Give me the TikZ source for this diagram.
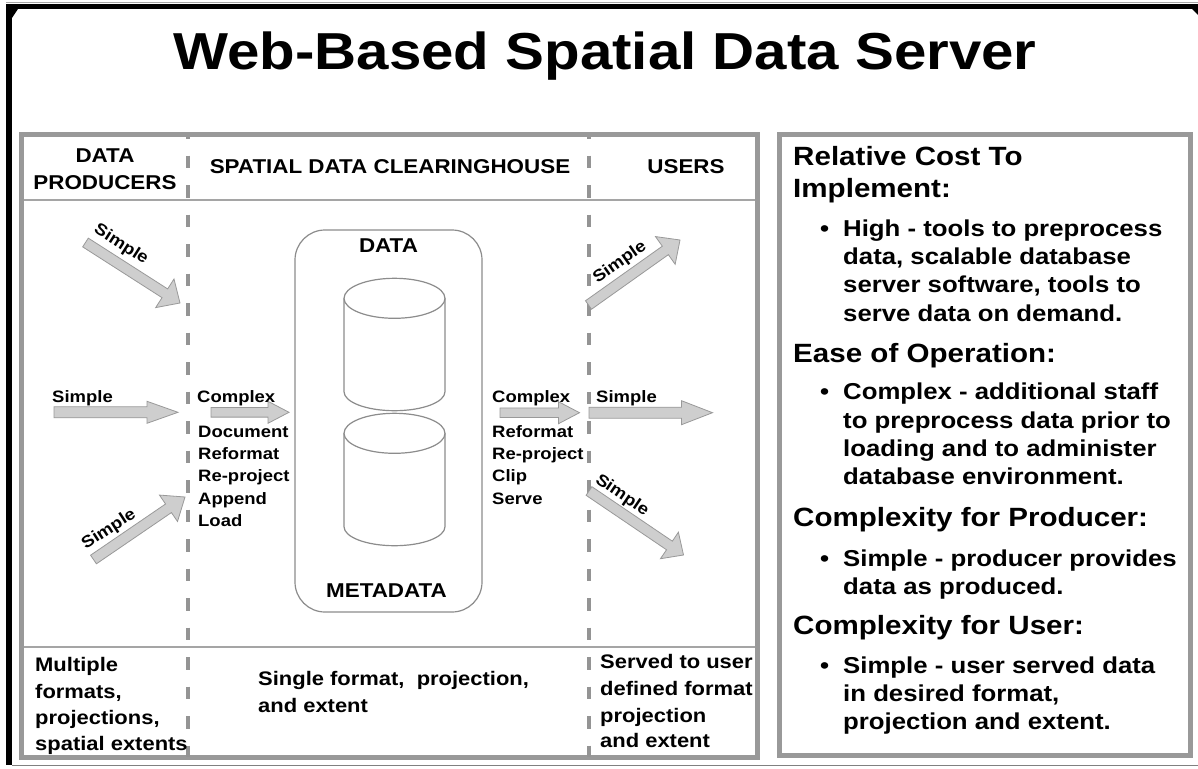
\documentclass[tikz,border=0pt]{standalone}
\usepackage{fontspec}
\setmainfont[FakeStretch=1.12]{Liberation Sans}
\usetikzlibrary{calc}

\definecolor{panelgray}{RGB}{153,153,153}
\definecolor{dashgray}{RGB}{148,148,148}
\definecolor{arrowfill}{RGB}{206,206,206}
\definecolor{linegray}{RGB}{140,140,140}
\definecolor{sepgray}{RGB}{165,165,165}

% block arrow: tail, tip, shaft half width, head half width, head length
\newcommand{\blockarrow}[5]{%
  \coordinate (#1-hb) at ($(#2)!#5pt!(#1)$);
  \draw[blockarr]
    ($(#1)!#3pt!90:(#2)$) -- ($(#1-hb)!#3pt!90:(#2)$) --
    ($(#1-hb)!#4pt!90:(#2)$) -- (#2) --
    ($(#1-hb)!#4pt!-90:(#2)$) -- ($(#1-hb)!#3pt!-90:(#2)$) --
    ($(#1)!#3pt!-90:(#2)$) -- cycle;
}

\begin{document}
\begin{tikzpicture}[x=1pt,y=-1pt,
  panel/.style={draw=panelgray, line width=5},
  sep/.style={draw=sepgray, line width=1.2},
  divider/.style={draw=dashgray, line width=4, dash pattern=on 12.5pt off 17pt, dash phase=11pt},
  blockarr/.style={draw=panelgray, fill=arrowfill, line width=0.8, line join=miter},
  store/.style={draw=linegray, line width=1.2, rounded corners=30pt, minimum width=187pt, minimum height=382pt, inner sep=0},
  cyl/.style={draw=linegray, line width=1.2},
  titletext/.style={font=\fontsize{52}{60}\selectfont\bfseries, inner sep=0, anchor=base},
  hdr/.style={font=\fontsize{20}{24}\selectfont\bfseries, inner sep=0, anchor=base},
  lbl/.style={font=\fontsize{16.5}{20}\selectfont\bfseries, inner sep=0, anchor=base west},
  slbl/.style={font=\fontsize{16.5}{20}\selectfont\bfseries, inner sep=0, anchor=center},
  btm/.style={font=\fontsize{19.6}{24}\selectfont\bfseries, inner sep=0, anchor=base west},
  rhead/.style={font=\fontsize{26.4}{30}\selectfont\bfseries, inner sep=0, anchor=base west},
  rbul/.style={font=\fontsize{23}{28}\selectfont\bfseries, inner sep=0, anchor=base west}]

\useasboundingbox (0,0) rectangle (1198,768);
\fill[white] (0,0) rectangle (1198,768);

% slide frame
\draw[gray!70, line width=0.8] (6,2.5) -- (1198,2.5);
\fill[black] (6,4) rectangle (1198,9);
\fill[black] (6,4) rectangle (12,765);
\fill[black] (12,9) -- (18,9) -- (12,18) -- cycle;
\fill[black] (1192,9) -- (1198,9) -- (1198,15) -- cycle;
\draw[gray, line width=0.8] (12,765.8) -- (1198,765.8);

% title
\node[titletext] (title) at (605,70) {Web-Based Spatial Data Server};

% left panel with header and footer rows
\draw[panel] (21.5,134.5) rectangle (757.5,757.5);
\coordinate (hsepL) at (24,200);   \coordinate (hsepR) at (755,200);
\coordinate (fsepL) at (24,647);   \coordinate (fsepR) at (755,647);
\draw[sep] (hsepL) -- (hsepR);
\draw[sep] (fsepL) -- (fsepR);

% column dividers
\coordinate (d1top) at (188,137); \coordinate (d1bot) at (188,757);
\coordinate (d2top) at (589,137); \coordinate (d2bot) at (589,757);
\draw[divider] (d1top) -- (d1bot);
\draw[divider] (d2top) -- (d2bot);

% column headings
\node[hdr] (hprod1) at (105,162) {DATA};
\node[hdr] (hprod2) at (105,189) {PRODUCERS};
\node[hdr] (hclear) at (390,173) {SPATIAL DATA CLEARINGHOUSE};
\node[hdr] (husers) at (686,173) {USERS};

% clearinghouse store with two databases
\node[store] (store) at (388.5,421) {};
\node[hdr] (datalbl) at (388.5,252) {DATA};
\node[hdr] (metalbl) at (386.5,597) {METADATA};

\draw[cyl] (394.5,298.3) ellipse [x radius=50.5pt, y radius=20pt];
\draw[cyl] (344,298.3) -- (344,391.7) arc[start angle=180, end angle=360, x radius=50.5pt, y radius=19pt] -- (445,298.3);
\draw[cyl] (394.5,433.3) ellipse [x radius=50.5pt, y radius=20pt];
\draw[cyl] (344,433.3) -- (344,526.7) arc[start angle=180, end angle=360, x radius=50.5pt, y radius=19pt] -- (445,433.3);

% producer arrows
\coordinate (aTLt) at (85.5,242.5);  \coordinate (aTLh) at (180,303);
\blockarrow{aTLt}{aTLh}{5.2}{17}{18}
\coordinate (aLt) at (54,412.3);     \coordinate (aLh) at (178,412.3);
\blockarrow{aLt}{aLh}{5.5}{11}{31}
\coordinate (aLLt) at (93.5,559.5);  \coordinate (aLLh) at (185,497);
\blockarrow{aLLt}{aLLh}{5.2}{16}{20}

% clearinghouse arrows
\coordinate (aCLt) at (211,412.3);   \coordinate (aCLh) at (289,412.3);
\blockarrow{aCLt}{aCLh}{4.8}{11}{21}
\coordinate (aCRt) at (500,412.7);   \coordinate (aCRh) at (579.5,412.7);
\blockarrow{aCRt}{aCRh}{4.8}{11}{21}

% user arrows
\coordinate (aRt) at (589,412.7);    \coordinate (aRh) at (712.5,412.7);
\blockarrow{aRt}{aRh}{5.5}{12}{31}
\coordinate (aURt) at (588.5,305);   \coordinate (aURh) at (680,240);
\blockarrow{aURt}{aURh}{5.2}{17}{18}
\coordinate (aLRt) at (589,491);     \coordinate (aLRh) at (683.5,555);
\blockarrow{aLRt}{aLRh}{5.2}{16}{17}

% arrow labels
\node[slbl, rotate=-32.5] (sTL) at (121,244.5) {Simple};
\node[lbl] (sL) at (52,402) {Simple};
\node[slbl, rotate=33] (sLL) at (109,529.5) {Simple};
\node[lbl] (cL) at (197,402) {Complex};
\node[lbl] (cR) at (492,402) {Complex};
\node[lbl] (sR) at (596,402) {Simple};
\node[slbl, rotate=35] (sUR) at (620,262.5) {Simple};
\node[slbl, rotate=-34] (sLR) at (622,495.5) {Simple};

% processing steps
\node[lbl] (pl1) at (198,437)   {Document};
\node[lbl] (pl2) at (198,459)   {Reformat};
\node[lbl] (pl3) at (198,481.5) {Re-project};
\node[lbl] (pl4) at (198,504)   {Append};
\node[lbl] (pl5) at (198,526)   {Load};
\node[lbl] (pr1) at (492,437)   {Reformat};
\node[lbl] (pr2) at (492,459)   {Re-project};
\node[lbl] (pr3) at (492,481.5) {Clip};
\node[lbl] (pr4) at (492,504)   {Serve};

% footer row
\node[btm] (fl1) at (35,671) {Multiple};
\node[btm] (fl2) at (35,698) {formats,};
\node[btm] (fl3) at (35,724) {projections,};
\node[btm] (fl4) at (35,750) {spatial extents};
\node[btm] (fc1) at (258,685) {Single format,\ \ projection,};
\node[btm] (fc2) at (258,712) {and extent};
\node[btm] (fr1) at (600,668) {Served to user};
\node[btm] (fr2) at (600,695) {defined format};
\node[btm] (fr3) at (600,722) {projection};
\node[btm] (fr4) at (600,747) {and extent};

% right panel
\draw[panel] (779.5,134.5) rectangle (1190.5,755.5);
\node[rhead] (h1a) at (793,165) {Relative Cost To};
\node[rhead] (h1b) at (793,197) {Implement:};
\node[rbul] (b1) at (820,236) {•};
\node[rbul] (t1a) at (843,236)   {High - tools to preprocess};
\node[rbul] (t1b) at (843,264.5) {data, scalable database};
\node[rbul] (t1c) at (843,292.5) {server software, tools to};
\node[rbul] (t1d) at (843,321)   {serve data on demand.};
\node[rhead] (h2) at (793,362) {Ease of Operation:};
\node[rbul] (b2) at (820,399) {•};
\node[rbul] (t2a) at (843,399) {Complex - additional staff};
\node[rbul] (t2b) at (843,428) {to preprocess data prior to};
\node[rbul] (t2c) at (843,456) {loading and to administer};
\node[rbul] (t2d) at (843,484) {database environment.};
\node[rhead] (h3) at (793,526) {Complexity for Producer:};
\node[rbul] (b3) at (820,566) {•};
\node[rbul] (t3a) at (843,566) {Simple - producer provides};
\node[rbul] (t3b) at (843,594) {data as produced.};
\node[rhead] (h4) at (793,634) {Complexity for User:};
\node[rbul] (b4) at (820,673) {•};
\node[rbul] (t4a) at (843,673) {Simple - user served data};
\node[rbul] (t4b) at (843,701) {in desired format,};
\node[rbul] (t4c) at (843,729) {projection and extent.};
\end{tikzpicture}
\end{document}
